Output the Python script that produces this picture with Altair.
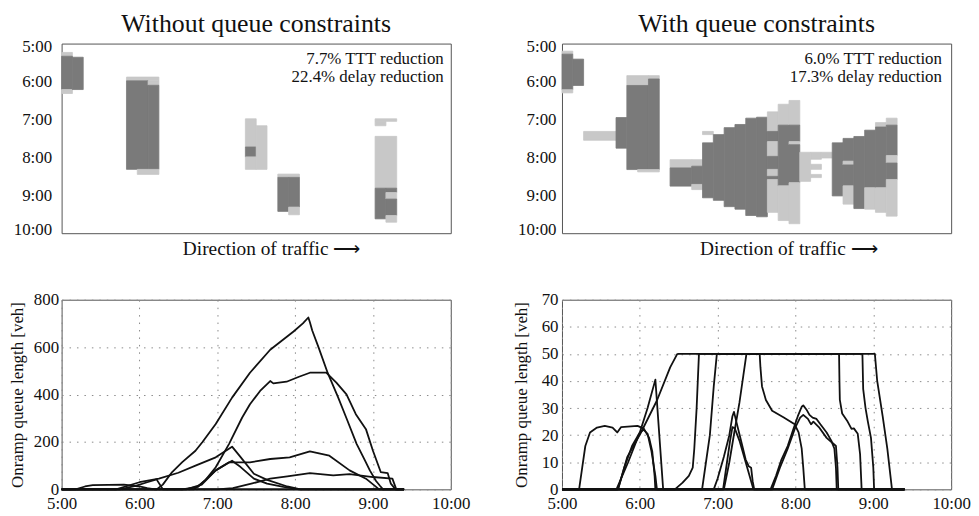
import altair as alt
import pandas as pd

SERIF = "Liberation Serif"
N_SECTIONS = 36
SHADE_NAMES = ["dark", "light"]
SHADE_COLORS = ["#7a7a7a", "#c8c8c8"]

# heatmap cells: (section_start, section_end, minutes_after_5:00_start, end, shade)
TL_CELLS = [
    (0, 1, 14, 20, "light"), (0, 1, 20, 72.7, "dark"), (0, 1, 72.7, 79, "light"),
    (1, 2, 21.6, 72.7, "dark"),
    (6, 9, 53, 59, "light"), (6, 8, 59, 199, "dark"), (8, 9, 59, 66, "light"),
    (8, 9, 66, 199, "dark"), (7, 9, 199, 207, "light"),
    (17, 18, 119, 163.6, "light"), (17, 18, 163.6, 179.3, "dark"), (17, 18, 179.3, 199, "light"),
    (18, 19, 130, 199, "light"),
    (20, 22, 206.5, 211.7, "light"), (20, 21, 211.7, 265.5, "dark"),
    (21, 22, 211.7, 258.7, "dark"), (21, 22, 258.7, 270.8, "light"),
    (29, 31, 119, 123, "light"), (29, 30, 123, 130, "light"), (29, 31, 146.8, 228.8, "light"),
    (29, 30, 228.8, 277.3, "dark"), (30, 31, 228.8, 235.6, "dark"), (30, 31, 235.6, 246, "light"),
    (30, 31, 246, 272, "dark"), (30, 31, 272, 282.6, "light"),
]

TR_CELLS = [
    (0, 1, 12, 16.7, "light"), (0, 1, 16.7, 73, "dark"), (0, 1, 73, 78, "light"),
    (1, 2, 24.6, 66.3, "dark"),
    (2, 5, 139, 153, "light"),
    (5, 6, 117, 165.5, "dark"),
    (6, 8, 50.7, 66.3, "light"), (6, 8, 66.3, 199.3, "dark"),
    (8, 9, 50.7, 56, "light"), (8, 9, 56, 199.3, "dark"),
    (7, 9, 199.3, 203, "light"),
    (10, 12, 183.7, 196.7, "light"), (10, 12, 196.7, 225.5, "dark"),
    (12, 13, 183.7, 194, "light"), (12, 13, 194, 222.8, "dark"), (12, 13, 222.8, 231, "light"),
    (13, 14, 139, 144, "light"), (13, 14, 157, 244, "dark"),
    (14, 15, 144, 248, "dark"),
    (15, 16, 133, 258, "dark"),
    (16, 17, 128, 262, "dark"),
    (17, 18, 118, 272, "dark"),
    (18, 19, 116.5, 274, "dark"),
    (19, 20, 108, 139, "light"), (19, 20, 139, 155, "dark"), (19, 20, 155, 178.5, "light"),
    (19, 20, 178.5, 199, "dark"), (19, 20, 199, 210, "light"), (19, 20, 210, 215, "dark"),
    (19, 20, 215, 267, "light"),
    (20, 21, 96, 129, "light"), (20, 21, 129, 225, "dark"), (20, 21, 225, 280, "light"),
    (21, 22, 90, 129, "light"), (21, 22, 129, 155, "dark"), (21, 22, 155, 160, "light"),
    (21, 22, 160, 220, "dark"), (21, 22, 220, 285, "light"),
    (22, 23, 172, 218, "light"),
    (23, 24, 172, 183, "light"), (23, 24, 191, 199, "light"), (23, 24, 207, 212, "light"),
    (24, 25, 172, 181, "light"),
    (25, 26, 157, 241, "dark"),
    (26, 27, 150, 186, "dark"), (26, 27, 186, 192, "light"), (26, 27, 192, 225, "dark"),
    (26, 27, 225, 254, "light"),
    (27, 28, 147, 261, "dark"),
    (28, 29, 137, 228, "dark"), (28, 29, 228, 262, "light"),
    (29, 30, 125, 132, "light"), (29, 30, 132, 228, "dark"), (29, 30, 228, 267, "light"),
    (30, 31, 118, 129, "light"), (30, 31, 129, 177, "dark"), (30, 31, 177, 189, "light"),
    (30, 31, 189, 215, "dark"), (30, 31, 215, 273, "light"),
]

TIME_TICKS_MIN = [0, 60, 120, 180, 240, 300]
HOUR_TICKS = [5, 6, 7, 8, 9, 10]
LEFT_Y_TICKS = [0, 200, 400, 600, 800]
RIGHT_Y_TICKS = [0, 10, 20, 30, 40, 50, 60, 70]

TL_NOTES = ["7.7% TTT reduction", "22.4% delay reduction"]
TR_NOTES = ["6.0% TTT reduction", "17.3% delay reduction"]
NOTE_MINUTES = [33, 60]
TL_NOTE_SECTION = 35.35
TR_NOTE_SECTION = 35.15

# onramp queue lengths (hour, vehicles) without queue constraints
LEFT_LINES = {
    "a": [(5.0, 0), (6.22, 0), (6.3, 20), (6.42, 73), (6.55, 115), (6.72, 163), (6.81, 200),
          (6.98, 276), (7.19, 387), (7.42, 492), (7.68, 589), (7.98, 666), (8.1, 700),
          (8.17, 725), (8.19, 705), (8.22, 670), (8.3, 600), (8.42, 490), (8.55, 390),
          (8.66, 300), (8.79, 192), (8.9, 120), (8.96, 80), (9.04, 35), (9.09, 15),
          (9.13, 0), (9.4, 0)],
    "b": [(5.0, 0), (6.7, 0), (6.85, 40), (6.98, 93), (7.15, 191), (7.32, 303), (7.42, 359),
          (7.55, 415), (7.68, 457), (7.72, 447), (7.89, 454), (8.05, 475), (8.19, 492),
          (8.4, 492), (8.53, 450), (8.66, 401), (8.78, 317), (8.91, 254), (9.0, 163),
          (9.1, 73), (9.19, 68), (9.23, 24), (9.29, 0), (9.4, 0)],
    "c": [(5.0, 0), (5.7, 0), (6.0, 30), (6.25, 45), (6.5, 70), (6.72, 100), (6.98, 135),
          (7.19, 180), (7.3, 136), (7.47, 66), (7.64, 40), (7.9, 12), (8.07, 0), (9.4, 0)],
    "d": [(5.0, 0), (6.55, 0), (6.75, 10), (6.98, 80), (7.19, 121), (7.3, 94), (7.47, 45),
          (7.64, 24), (7.85, 10), (8.05, 0), (9.4, 0)],
    "e": [(5.0, 0), (6.6, 0), (6.8, 20), (6.98, 80), (7.15, 114), (7.42, 114), (7.68, 128),
          (7.93, 135), (8.19, 160), (8.44, 142), (8.7, 80), (8.91, 45), (9.08, 0), (9.4, 0)],
    "f": [(5.0, 0), (7.0, 0), (7.2, 5), (7.45, 25), (7.68, 45), (7.9, 55), (8.19, 68),
          (8.49, 59), (8.7, 64), (9.0, 52), (9.25, 45), (9.3, 0), (9.4, 0)],
    "g": [(5.0, 0), (5.18, 0), (5.3, 12), (5.4, 18), (5.8, 20), (6.0, 12), (6.1, 5),
          (6.2, 0), (9.4, 0)],
    "h": [(5.0, 0), (5.75, 0), (5.95, 15), (6.1, 30), (6.22, 42), (6.3, 0), (9.4, 0)],
}

# onramp queue lengths (hour, vehicles) with queue constraints
RIGHT_LINES = {
    "r1": [(5.0, 0), (5.22, 0), (5.26, 8), (5.3, 16), (5.36, 21), (5.45, 22.8), (5.55, 23.4),
           (5.65, 22.8), (5.71, 21), (5.76, 23), (5.97, 23.4), (6.05, 22.5), (6.12, 19),
           (6.16, 14), (6.19, 5), (6.2, 0), (9.4, 0)],
    "r2": [(5.0, 0), (5.7, 0), (5.85, 10), (6.0, 21), (6.1, 30), (6.2, 40.5), (6.3, 0), (9.4, 0)],
    "r3": [(5.0, 0), (5.72, 0), (5.84, 12), (6.01, 20.7), (6.22, 32.8), (6.39, 45),
           (6.48, 49.9), (6.5, 50), (9.02, 50), (9.05, 40), (9.12, 27), (9.18, 15),
           (9.24, 0), (9.4, 0)],
    "r4": [(5.0, 0), (5.72, 0), (5.8, 8), (5.9, 16), (6.0, 21), (6.05, 22), (6.1, 20.5),
           (6.15, 14), (6.2, 5), (6.22, 0), (9.4, 0)],
    "r5": [(5.0, 0), (6.45, 0), (6.55, 2.5), (6.63, 5), (6.68, 8), (6.7, 15), (6.73, 30),
           (6.76, 50), (8.86, 50), (8.87, 37), (8.9, 30), (8.93, 25), (8.97, 19), (9.0, 8),
           (9.01, 0), (9.4, 0)],
    "r6": [(5.0, 0), (6.8, 0), (6.85, 10), (6.9, 20), (6.95, 38), (6.99, 50), (8.56, 50),
           (8.565, 40), (8.57, 33), (8.6, 28), (8.67, 25), (8.72, 22.3), (8.75, 22.5),
           (8.8, 20.5), (8.83, 13), (8.85, 0), (9.4, 0)],
    "r7": [(5.0, 0), (7.08, 0), (7.15, 10), (7.22, 22), (7.28, 32), (7.33, 42), (7.37, 50),
           (7.54, 50), (7.55, 45), (7.57, 38), (7.62, 33), (7.7, 29), (7.85, 26.5),
           (7.99, 24), (8.04, 21), (8.08, 15), (8.1, 8), (8.12, 0), (9.4, 0)],
    "r8": [(5.0, 0), (6.95, 0), (7.0, 4), (7.08, 12), (7.15, 20), (7.19, 27), (7.21, 28.6),
           (7.24, 25), (7.3, 18), (7.36, 11), (7.4, 8.5), (7.43, 8), (7.45, 3), (7.47, 0),
           (9.4, 0)],
    "r9": [(5.0, 0), (7.07, 0), (7.12, 10), (7.16, 18), (7.19, 23), (7.22, 22.5), (7.28, 18),
           (7.34, 12), (7.4, 6), (7.44, 2), (7.46, 0), (9.4, 0)],
    "r10": [(5.0, 0), (7.68, 0), (7.75, 5), (7.82, 11), (7.9, 16), (7.97, 22), (8.03, 27),
            (8.08, 30.5), (8.1, 31), (8.14, 29.5), (8.18, 27.5), (8.22, 26.5), (8.27, 26),
            (8.32, 24), (8.4, 21), (8.46, 18), (8.5, 15), (8.52, 8), (8.53, 0), (9.4, 0)],
    "r11": [(5.0, 0), (7.7, 0), (7.8, 8), (7.9, 15), (8.0, 23), (8.06, 26.5), (8.1, 27.5),
            (8.16, 26), (8.2, 24), (8.23, 25), (8.3, 23), (8.4, 19), (8.48, 17), (8.52, 16),
            (8.54, 8), (8.55, 0), (9.4, 0)],
}

W, H = 392, 191
TXT = "#111111"


def heat(cells, title, notes, note_sec, label_pad, title_x):
    df = pd.DataFrame(cells, columns=["c0", "c1", "t0", "t1", "shade"])
    xs = alt.Scale(domain=[0, N_SECTIONS], nice=False, zero=False)
    ys = alt.Scale(domain=[0, 300], reverse=True, nice=False, zero=False)
    x_axis = alt.Axis(labels=False, ticks=False, grid=False, domain=False,
                      title="Direction of traffic \u27f6", titleX=title_x,
                      titlePadding=6, titleFontSize=19.5)
    y_axis = alt.Axis(values=TIME_TICKS_MIN,
                      labelExpr="(5 + datum.value / 60) + ':00'",
                      labelFlush=True, labelFlushOffset=5,
                      ticks=False, grid=False, domain=False,
                      labelPadding=label_pad, title=None)
    shade = alt.Scale(domain=SHADE_NAMES, range=SHADE_COLORS)
    rect = alt.Chart(df).mark_rect(strokeWidth=0.8).encode(
        x=alt.X("c0:Q", scale=xs, axis=x_axis),
        x2="c1:Q",
        y=alt.Y("t0:Q", scale=ys, axis=y_axis),
        y2="t1:Q",
        color=alt.Color("shade:N", scale=shade, legend=None),
        stroke=alt.Stroke("shade:N", scale=shade, legend=None),
    )
    ndf = pd.DataFrame({"text": notes, "t": NOTE_MINUTES, "sec": [note_sec] * len(notes)})
    note = alt.Chart(ndf).mark_text(align="right", baseline="alphabetic", font=SERIF,
                                    fontSize=17, color=TXT).encode(
        x=alt.X("sec:Q", scale=xs, axis=x_axis),
        y=alt.Y("t:Q", scale=ys, axis=y_axis),
        text="text:N",
    )
    return alt.layer(rect, note).properties(
        width=W, height=H,
        title=alt.TitleParams(title, font=SERIF, fontSize=26, fontWeight="normal",
                              offset=1, frame="group", color=TXT),
    )


def lines(series, ydom, yticks, label_pad, title_pad):
    rows = []
    for name, pts in series.items():
        for i, (h, v) in enumerate(pts):
            rows.append({"s": name, "h": h, "v": v, "o": i})
    df = pd.DataFrame(rows)
    grid = dict(grid=True, gridDash=[1.5, 6], gridColor="#8a8a8a", gridWidth=1)
    return alt.Chart(df).mark_line(color=TXT, strokeWidth=1.8, strokeJoin="round").encode(
        x=alt.X("h:Q", scale=alt.Scale(domain=[5, 10], nice=False, zero=False),
                axis=alt.Axis(values=HOUR_TICKS, labelExpr="datum.value + ':00'",
                              labelFlush=False, ticks=False, domain=False,
                              labelPadding=6, title=None, **grid)),
        y=alt.Y("v:Q", scale=alt.Scale(domain=ydom, nice=False),
                axis=alt.Axis(values=yticks, ticks=False, domain=False,
                              labelPadding=label_pad, title="Onramp queue length [veh]",
                              titlePadding=title_pad, titleFontSize=17, **grid)),
        detail="s:N",
        order="o:Q",
    ).properties(width=W, height=H)


tl = heat(TL_CELLS, "Without queue constraints", TL_NOTES, TL_NOTE_SECTION, 10, 211)
tr = heat(TR_CELLS, "With queue constraints", TR_NOTES, TR_NOTE_SECTION, 6, 228)
bl = lines(LEFT_LINES, [0, 800], LEFT_Y_TICKS, 3, 6.5)
br = lines(RIGHT_LINES, [0, 70], RIGHT_Y_TICKS, 4, 11)

chart = alt.concat(
    tl, tr, bl, br, columns=2, spacing={"row": 67, "column": 112}, bounds="flush"
).properties(
    padding={"left": 0, "top": 0, "right": 0, "bottom": 0}
).configure_view(
    stroke="#555555", strokeWidth=1
).configure_axis(
    labelFont=SERIF, labelFontSize=17, labelColor=TXT,
    titleFont=SERIF, titleFontWeight="normal", titleColor=TXT,
)

chart.save("out.html", embed_options={"renderer": "svg", "actions": False})
